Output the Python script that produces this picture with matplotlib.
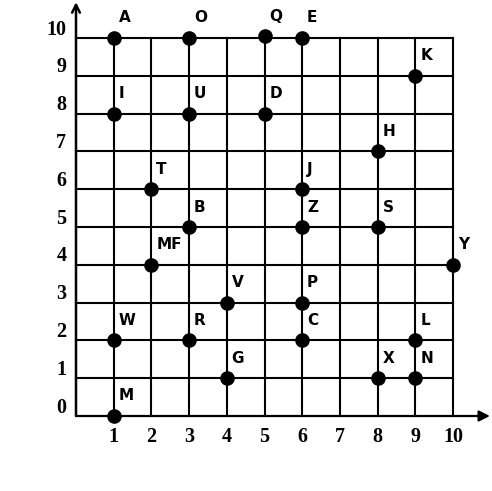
import matplotlib.pyplot as plt

# Labelled points on the grid
labels = ['A', 'O', 'Q', 'E', 'K', 'I', 'U', 'D', 'H', 'T', 'J', 'B', 'Z', 'S',
          'MF', 'Y', 'V', 'P', 'W', 'R', 'C', 'L', 'G', 'X', 'N', 'M']
xs = [1, 3, 5, 6, 9, 1, 3, 5, 8, 2, 6, 3, 6, 8,
      2, 10, 4, 6, 1, 3, 6, 9, 4, 8, 9, 1]
ys = [10, 10, 10.05, 10, 9, 8, 8, 8, 7, 6, 6, 5, 5, 5,
      4, 4, 3, 3, 2, 2, 2, 2, 1, 1, 1, 0]

ticks = list(range(0, 11))
tick_labels = [str(t) for t in ticks]

fig = plt.figure(figsize=(4.92, 4.91), dpi=100)
ax = fig.add_axes([76 / 492, 75 / 491, 377 / 492, 378 / 491])
ax.set_xlim(0, 10)
ax.set_ylim(0, 10)
ax.axis('off')

# grid lines
for t in ticks[1:]:
    ax.plot([t, t], [0, 10], color='black', lw=1.5, clip_on=False, zorder=1)
    ax.plot([0, 10], [t, t], color='black', lw=1.5, clip_on=False, zorder=1)

# axes with arrows
ax.annotate('', xy=(10.98, 0), xytext=(0, 0),
            arrowprops=dict(arrowstyle='-|>', color='black', lw=1.6,
                            mutation_scale=16, shrinkA=0, shrinkB=0),
            annotation_clip=False)
ax.annotate('', xy=(0, 10.95), xytext=(0, 0),
            arrowprops=dict(arrowstyle='->', color='black', lw=1.8,
                            mutation_scale=14, shrinkA=0, shrinkB=0),
            annotation_clip=False)

# tick labels
for t, s in zip(ticks[1:], tick_labels[1:]):
    ax.annotate(s, (t, 0), xytext=(0, -15), textcoords='offset points',
                ha='center', va='center', fontsize=14.5, fontweight='bold',
                family='Liberation Serif', annotation_clip=False)
for t, s in zip(ticks, tick_labels):
    ax.annotate(s, (0, t), xytext=(-7, 6), textcoords='offset points',
                ha='right', va='center', fontsize=14.5, fontweight='bold',
                family='Liberation Serif', annotation_clip=False)

# points and labels
ax.plot(xs, ys, 'o', color='black', markersize=9.5, clip_on=False, zorder=3)
for lab, x, y in zip(labels, xs, ys):
    ax.annotate(lab, (x, y), xytext=(3.5, 9), textcoords='offset points',
                ha='left', va='bottom', fontsize=11, fontweight='bold',
                family='DejaVu Sans', annotation_clip=False)

fig.savefig('out.png', dpi=100)
